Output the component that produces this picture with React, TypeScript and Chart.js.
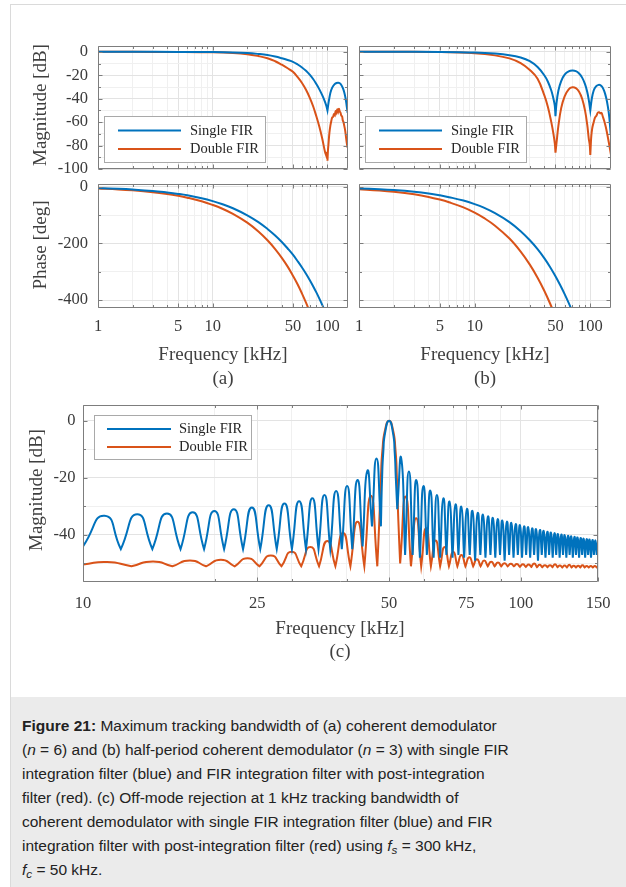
import React, { useEffect, useRef } from 'react';
import { Chart, registerables } from 'chart.js';

Chart.register(...registerables);

const BLUE = '#0072BD';
const RED = '#D95319';
const SERIES_LABELS = ['Single FIR', 'Double FIR'];

// ---------- (a) magnitude ----------
const A_MAG_SINGLE_F = [1, 2, 5, 10, 15, 20, 25, 30, 35, 40, 45, 50, 55, 60, 65, 70, 75, 80, 85, 90, 95, 98, 100, 102, 106, 110, 115, 120, 124, 128, 132, 136, 140, 144, 147, 150];
const A_MAG_SINGLE_DB = [0, 0, -0.05, -0.2, -0.5, -1.0, -1.8, -2.7, -4.0, -5.5, -7.0, -8.5, -10.8, -13.3, -16.2, -19.5, -23.2, -27.5, -32, -37, -42.5, -46.5, -50, -44, -35, -30.5, -27.8, -26.6, -26.3, -26.8, -28.3, -30.8, -34.5, -40, -46, -52];
const A_MAG_DOUBLE_F = [1, 2, 5, 10, 15, 20, 25, 30, 35, 40, 45, 50, 55, 60, 65, 70, 75, 80, 85, 90, 95, 98, 99.3, 100, 101, 102, 104, 106, 108, 110, 112, 114, 116, 118, 120, 122, 124, 126, 128, 130, 132, 134, 136, 138, 140, 142, 144, 146, 148, 150];
const A_MAG_DOUBLE_DB = [0, 0, -0.1, -0.4, -1.0, -2.0, -3.6, -5.4, -8.0, -11.0, -14.0, -17.0, -21.6, -26.6, -32.4, -39, -46.4, -55, -64, -74, -85, -89, -86, -93, -84, -79, -69, -63, -59, -56, -55.5, -53, -54, -50.5, -52, -49, -51, -48.5, -51, -52, -54.5, -55, -58.5, -60, -63, -66, -70, -75, -79, -82];

// ---------- (b) magnitude ----------
const B_MAG_SINGLE_F = [1, 2, 5, 10, 15, 20, 25, 30, 35, 40, 43, 46, 48, 49.3, 50, 51, 53, 56, 60, 65, 70, 75, 80, 85, 90, 94, 97, 100, 103, 107, 112, 118, 122, 127, 132, 137, 142, 146, 150];
const B_MAG_SINGLE_DB = [0, 0, -0.1, -0.6, -1.5, -2.8, -4.8, -8.0, -13, -20, -25.5, -33, -40, -46, -55, -44, -33, -25, -19.5, -16.7, -16, -16.5, -18.5, -22, -27.5, -34, -41, -50, -40, -33, -29.5, -28.2, -28.4, -30, -33.5, -39, -47, -56, -70];
const B_MAG_DOUBLE_F = [1, 2, 5, 10, 15, 20, 25, 30, 35, 40, 43, 46, 48, 49.3, 50, 51, 53, 56, 60, 65, 70, 75, 80, 85, 90, 94, 97, 99, 100, 101, 102, 104, 107, 110, 113, 116, 119, 122, 125, 128, 132, 136, 140, 145, 148, 150];
const B_MAG_DOUBLE_DB = [0, 0, -0.2, -1.2, -3.0, -5.6, -9.6, -15.5, -23, -37, -47, -60, -70, -78, -86, -78, -63, -48, -38, -32, -30.3, -31, -34, -40, -50, -62, -74, -80, -88, -79, -72, -65, -60, -56, -54.5, -52, -51.5, -52.5, -52, -55, -59, -64, -70, -78, -83, -80];

// ---------- phase ----------
const PH_F = [1, 1.5, 2, 3, 4, 5, 6, 8, 10, 12, 15, 20, 25, 30, 35, 40, 45, 50, 55, 60, 65, 70, 75, 80, 85, 90, 95, 100];
const A_PH_SINGLE = [-5, -7.5, -10, -15, -20.5, -25.5, -30.5, -41, -51, -61, -76, -101, -125, -149, -172, -195, -218, -240, -263, -285, -307, -329, -351, -373, -395, -417, -439, -461];
const A_PH_DOUBLE = [-6.3, -9.5, -12.8, -19.3, -25.8, -32.3, -38.8, -51.5, -64.5, -77, -96, -127, -158, -189, -220, -251, -282, -314, -345, -377, -409, -441, -472, -504, -535, -567, -598, -630];
const B_PH_SINGLE = [-6, -9, -12, -18, -24, -30.5, -37, -49, -61.5, -74, -93.5, -125, -157, -189, -220, -252, -284, -316, -348, -379, -410, -441, -473, -504, -535, -566, -598, -630];
const B_PH_DOUBLE = [-9, -13.5, -18, -27, -36, -45.5, -55, -73, -91.5, -110, -137.5, -183, -229, -275, -321, -367, -413, -459, -505, -551, -597, -643, -689, -735, -781, -827, -873, -919];

// ---------- (c) off-mode rejection ----------
const C_SINGLE_F = [10.0, 11.2, 12.2, 13.3, 14.4, 15.55, 16.7, 17.8, 18.9, 19.95, 21.0, 22.1, 23.2, 24.3, 25.4, 26.55, 27.7, 28.85, 30.0, 31.15, 32.3, 33.4, 34.5, 35.6, 36.7, 37.85, 39.0, 40.1, 41.2, 42.35, 43.5, 44.6, 45.7, 46.8, 47.9, 48.2, 48.5, 49.0, 50.0, 51.0, 51.5, 51.8, 52.2, 53.3, 54.4, 55.5, 56.6, 57.7, 58.8, 59.9, 61.0, 62.1, 63.2, 64.3, 65.4, 66.5, 67.6, 68.7, 69.8, 70.9, 72.0, 73.1, 74.2, 75.3, 76.4, 77.5, 78.6, 79.7, 80.8, 81.9, 83.0, 84.1, 85.2, 86.3, 87.4, 88.5, 89.6, 90.7, 91.8, 92.9, 94.0, 95.1, 96.2, 97.3, 98.4, 99.5, 100.6, 101.7, 102.8, 103.9, 105.0, 106.1, 107.2, 108.3, 109.4, 110.5, 111.6, 112.7, 113.8, 114.9, 116.0, 117.1, 118.2, 119.3, 120.4, 121.5, 122.6, 123.7, 124.8, 125.9, 127.0, 128.1, 129.2, 130.3, 131.4, 132.5, 133.6, 134.7, 135.8, 136.9, 138.0, 139.1, 140.2, 141.3, 142.4, 143.5, 144.6, 145.7, 146.8, 147.9, 149.0, 150.0];
const C_SINGLE_DB = [-44.0, -33.3, -45.0, -32.8, -45.0, -32.5, -45.0, -32.1, -45.0, -31.6, -45.0, -31.0, -45.0, -30.4, -45.0, -29.6, -45.0, -29.0, -45.0, -28.2, -45.0, -27.2, -45.0, -26.0, -45.0, -24.6, -45.0, -22.9, -45.0, -20.8, -44.0, -17.6, -37.0, -13.2, -37.0, -20, -11, -4, 0.0, -4, -11, -20, -31.0, -13.2, -47, -17.8, -47, -20.8, -48, -22.9, -47, -24.5, -48, -26.0, -48, -27.2, -47, -28.3, -48, -29.3, -47, -30.1, -48, -30.9, -47, -31.6, -49, -32.3, -47, -32.9, -48, -33.5, -47, -34.0, -48, -34.5, -47, -35.0, -49, -35.4, -47, -35.8, -48, -36.2, -47, -36.6, -48, -37.0, -47, -37.3, -48, -37.7, -47, -38.0, -49, -38.3, -47, -38.6, -48, -38.9, -47, -39.2, -48, -39.4, -47, -39.7, -48, -39.9, -47, -40.1, -48, -40.3, -47, -40.5, -48, -40.7, -47, -40.9, -48, -41.1, -47, -41.3, -48, -41.5, -47, -41.6, -48, -41.8, -47, -41.9, -47, -42.5];
const C_DOUBLE_F = [10.0, 11.35, 12.9, 14.45, 16.0, 17.55, 19.1, 20.65, 22.2, 23.75, 25.3, 26.85, 28.4, 29.95, 31.5, 33.05, 34.6, 36.15, 37.7, 39.25, 40.8, 42.35, 43.9, 45.45, 47.0, 47.5, 47.9, 48.3, 49.0, 50.0, 51.0, 51.7, 52.1, 52.5, 53.0, 54.55, 56.1, 57.65, 59.2, 60.75, 62.3, 63.85, 65.4, 66.95, 68.5, 70.05, 71.6, 73.15, 74.7, 76.25, 77.8, 79.35, 80.9, 82.45, 84.0, 85.55, 87.1, 88.65, 90.2, 91.75, 93.3, 94.85, 96.4, 97.95, 99.5, 101.05, 102.6, 104.15, 105.7, 107.25, 108.8, 110.35, 111.9, 113.45, 115.0, 116.55, 118.1, 119.65, 121.2, 122.75, 124.3, 125.85, 127.4, 128.95, 130.5, 132.05, 133.6, 135.15, 136.7, 138.25, 139.8, 141.35, 142.9, 144.45, 146.0, 147.55, 149.1, 150.0];
const C_DOUBLE_DB = [-50.4, -49.5, -51.0, -49.3, -51.0, -49.0, -51.0, -48.7, -51.0, -48.2, -51.0, -47.2, -51.0, -45.9, -51.0, -44.2, -51.0, -42.1, -51.0, -39.3, -51.0, -35.4, -51.0, -26.3, -51.0, -35, -20, -10, -3, 0.0, -3, -10, -20, -35, -50.0, -26.6, -51.0, -34.2, -51.0, -37.7, -51.0, -42.0, -51.0, -44.2, -51.0, -45.9, -51.0, -47.0, -51.0, -47.8, -51.0, -48.5, -51.0, -49.0, -51.0, -49.4, -51.0, -49.7, -51.0, -49.9, -51.0, -50.1, -51.0, -50.2, -51.2, -50.3, -51.2, -50.4, -51.2, -50.0, -51.3, -50.5, -51.3, -50.6, -51.3, -50.6, -51.3, -50.3, -51.3, -50.7, -51.4, -50.7, -51.4, -50.5, -51.4, -50.8, -51.4, -50.8, -51.4, -50.6, -51.4, -50.9, -51.4, -50.9, -51.4, -50.9, -51.4, -51.0];

// ---------- ticks ----------
const UPPER_X_LABELS = [1, 5, 10, 50, 100];
const UPPER_X_MINOR = [2, 3, 4, 6, 7, 8, 9, 20, 30, 40, 60, 70, 80, 90];
const C_X_LABELS = [10, 25, 50, 75, 100, 150];
const C_X_MINOR = [20, 30, 40, 60, 70, 80, 90];
const MAG_Y_TICKS = [0, -20, -40, -60, -80, -100];
const MAG_Y_MINOR = [-10, -30, -50, -70, -90];
const PHASE_Y_TICKS = [0, -200, -400];
const PHASE_Y_MINOR = [-100, -300];
const C_Y_TICKS = [0, -20, -40];
const C_Y_MINOR = [-10, -30, -50];

const SERIF = '"Liberation Serif", "Times New Roman", serif';
const SANS = '"Liberation Sans", Arial, sans-serif';
const TICK_COLOR = '#3a3a3a';
const TITLE_COLOR = '#3f3f3f';
const FRAME_COLOR = '#7d7d7d';
const GRID_MAJOR = '#e3e3e3';
const GRID_MINOR = '#f0f0f0';
const MARGIN = { l: 75, r: 18, t: 10, b: 40 };
const Y_AXIS_W = 60;
const X_AXIS_H = 34;

type Series = { label: string; color: string; f: number[]; v: number[] };
type Legend = { box: number[]; line: number[]; rows: number[]; textX: number };
type PlotDef = {
  rect: number[];
  xMin: number; xMax: number; xMajor: number[]; xMinor: number[]; xLabels: boolean; xPad: number;
  yMin: number; yMax: number; yMajor: number[]; yMinor: number[]; yLabels: boolean; yPad: number;
  series: Series[]; tension: number; legend?: Legend;
};

function toPoints(f: number[], v: number[]) {
  const pts: { x: number; y: number }[] = [];
  for (let i = 0; i < f.length; i++) {
    pts.push({ x: f[i], y: v[i] });
    if (i > 0 && i < f.length - 1 && v[i] < v[i - 1] && v[i] < v[i + 1]) pts.push({ x: f[i], y: v[i] });
  }
  return pts;
}

function tickList(major: number[], minor: number[]) {
  return [
    ...major.map((v) => ({ value: v, major: true })),
    ...minor.map((v) => ({ value: v, major: false })),
  ].sort((a, b) => a.value - b.value);
}

function buildChart(canvas: HTMLCanvasElement, def: PlotDef) {
  const framePlugin = {
    id: 'frameTicks',
    afterDatasetsDraw(chart: any) {
      const { ctx, chartArea: a, scales } = chart;
      const l = a.left + 0.5, r = a.right - 0.5, t = a.top + 0.5, b = a.bottom - 0.5;
      ctx.save();
      ctx.strokeStyle = FRAME_COLOR;
      ctx.lineWidth = 1;
      ctx.beginPath();
      ctx.rect(l, t, r - l, b - t);
      for (const tk of scales.x.ticks) {
        const px = Math.round(scales.x.getPixelForValue(tk.value)) + 0.5;
        const len = tk.major ? 4 : 2.5;
        ctx.moveTo(px, b); ctx.lineTo(px, b - len);
        ctx.moveTo(px, t); ctx.lineTo(px, t + len);
      }
      for (const tk of scales.y.ticks) {
        const py = Math.round(scales.y.getPixelForValue(tk.value)) + 0.5;
        const len = tk.major ? 4 : 2.5;
        ctx.moveTo(l, py); ctx.lineTo(l + len, py);
        ctx.moveTo(r, py); ctx.lineTo(r - len, py);
      }
      ctx.stroke();
      ctx.restore();
    },
  };
  const legendPlugin = {
    id: 'insideLegend',
    afterDraw(chart: any) {
      const lg = def.legend;
      if (!lg) return;
      const { ctx, chartArea: a } = chart;
      const [bx, by, bw, bh] = lg.box;
      ctx.save();
      ctx.fillStyle = '#ffffff';
      ctx.fillRect(a.left + bx, a.top + by, bw, bh);
      ctx.strokeStyle = '#a9a9a9';
      ctx.lineWidth = 1;
      ctx.strokeRect(a.left + bx + 0.5, a.top + by + 0.5, bw - 1, bh - 1);
      chart.data.datasets.forEach((ds: any, i: number) => {
        const yy = a.top + lg.rows[i];
        ctx.strokeStyle = ds.borderColor;
        ctx.lineWidth = 2;
        ctx.beginPath();
        ctx.moveTo(a.left + lg.line[0], yy);
        ctx.lineTo(a.left + lg.line[1], yy);
        ctx.stroke();
        ctx.fillStyle = '#262626';
        ctx.font = `14.5px ${SERIF}`;
        ctx.textBaseline = 'middle';
        ctx.textAlign = 'left';
        ctx.fillText(ds.label, a.left + lg.textX, yy + 0.5);
      });
      ctx.restore();
    },
  };

  return new Chart(canvas, {
    type: 'line',
    data: {
      datasets: def.series.map((s) => ({
        label: s.label,
        data: toPoints(s.f, s.v),
        borderColor: s.color,
        backgroundColor: s.color,
        borderWidth: 2,
        pointRadius: 0,
        pointHoverRadius: 0,
        tension: def.tension,
        fill: false,
      })),
    },
    options: {
      animation: false,
      responsive: false,
      maintainAspectRatio: false,
      events: [],
      layout: {
        padding: {
          left: MARGIN.l - Y_AXIS_W,
          right: MARGIN.r,
          top: MARGIN.t,
          bottom: MARGIN.b - X_AXIS_H,
        },
      },
      plugins: { legend: { display: false }, tooltip: { enabled: false }, title: { display: false } },
      scales: {
        x: {
          type: 'logarithmic',
          position: 'bottom',
          min: def.xMin,
          max: def.xMax,
          afterBuildTicks: (s: any) => { s.ticks = tickList(def.xMajor, def.xMinor); },
          afterFit: (s: any) => { s.height = X_AXIS_H; s.paddingLeft = 0; s.paddingRight = 0; s.paddingTop = 0; s.paddingBottom = 0; },
          grid: { drawTicks: false, color: (c: any) => (c.tick && c.tick.major ? GRID_MAJOR : GRID_MINOR), lineWidth: 1 },
          border: { display: false },
          ticks: {
            display: def.xLabels,
            autoSkip: false,
            maxRotation: 0,
            minRotation: 0,
            padding: def.xPad,
            color: TICK_COLOR,
            font: { family: SERIF, size: 16.5 },
            callback: (v: any) => (def.xMajor.includes(Number(v)) ? String(v) : ''),
          },
        },
        y: {
          type: 'linear',
          position: 'left',
          min: def.yMin,
          max: def.yMax,
          afterBuildTicks: (s: any) => { s.ticks = tickList(def.yMajor, def.yMinor); },
          afterFit: (s: any) => { s.width = Y_AXIS_W; s.paddingLeft = 0; s.paddingRight = 0; s.paddingTop = 0; s.paddingBottom = 0; },
          grid: { drawTicks: false, color: (c: any) => (c.tick && c.tick.major ? GRID_MAJOR : GRID_MINOR), lineWidth: 1 },
          border: { display: false },
          ticks: {
            display: def.yLabels,
            autoSkip: false,
            padding: def.yPad,
            color: TICK_COLOR,
            font: { family: SERIF, size: 16.5 },
            callback: (v: any) => (def.yMajor.includes(Number(v)) ? String(v) : ''),
          },
        },
      },
    } as any,
    plugins: [framePlugin, legendPlugin],
  } as any);
}

function Plot({ def }: { def: PlotDef }) {
  const ref = useRef<HTMLCanvasElement>(null);
  useEffect(() => {
    const chart = buildChart(ref.current as HTMLCanvasElement, def);
    return () => chart.destroy();
  }, [def]);
  const [L, T, R, B] = def.rect;
  const w = R - L + MARGIN.l + MARGIN.r;
  const h = B - T + MARGIN.t + MARGIN.b;
  return (
    <canvas
      ref={ref}
      width={w}
      height={h}
      style={{ position: 'absolute', left: L - MARGIN.l, top: T - MARGIN.t, width: w, height: h }}
    />
  );
}

const UPPER_LEGEND: Legend = { box: [6, 70, 162, 47], line: [20, 83], rows: [84.5, 103], textX: 92 };
const C_LEGEND: Legend = { box: [11, 10, 158, 45], line: [24, 88], rows: [24, 42], textX: 96 };

const magSeries = (fs: number[], vs: number[], fd: number[], vd: number[]): Series[] => [
  { label: SERIES_LABELS[0], color: BLUE, f: fs, v: vs },
  { label: SERIES_LABELS[1], color: RED, f: fd, v: vd },
];

const UPPER_X = { xMin: 1, xMax: 151, xMajor: UPPER_X_LABELS, xMinor: UPPER_X_MINOR };
const MAG_Y = { yMin: -100, yMax: 5, yMajor: MAG_Y_TICKS, yMinor: MAG_Y_MINOR };
const PH_Y = { yMin: -428, yMax: 9.5, yMajor: PHASE_Y_TICKS, yMinor: PHASE_Y_MINOR };

const PLOTS: PlotDef[] = [
  {
    rect: [98, 46, 348, 169], ...UPPER_X, xLabels: false, xPad: 9, ...MAG_Y, yLabels: true, yPad: 10,
    series: magSeries(A_MAG_SINGLE_F, A_MAG_SINGLE_DB, A_MAG_DOUBLE_F, A_MAG_DOUBLE_DB), tension: 0.4, legend: UPPER_LEGEND,
  },
  {
    rect: [98, 184, 348, 308], ...UPPER_X, xLabels: true, xPad: 9, ...PH_Y, yLabels: true, yPad: 10,
    series: magSeries(PH_F, A_PH_SINGLE, PH_F, A_PH_DOUBLE), tension: 0.4,
  },
  {
    rect: [359, 46, 611, 169], ...UPPER_X, xLabels: false, xPad: 9, ...MAG_Y, yLabels: false, yPad: 10,
    series: magSeries(B_MAG_SINGLE_F, B_MAG_SINGLE_DB, B_MAG_DOUBLE_F, B_MAG_DOUBLE_DB), tension: 0.4, legend: UPPER_LEGEND,
  },
  {
    rect: [359, 184, 611, 308], ...UPPER_X, xLabels: true, xPad: 9, ...PH_Y, yLabels: false, yPad: 10,
    series: magSeries(PH_F, B_PH_SINGLE, PH_F, B_PH_DOUBLE), tension: 0.4,
  },
  {
    rect: [83, 405, 598, 582], xMin: 10, xMax: 150, xMajor: C_X_LABELS, xMinor: C_X_MINOR, xLabels: true, xPad: 11.5,
    yMin: -56.5, yMax: 5.5, yMajor: C_Y_TICKS, yMinor: C_Y_MINOR, yLabels: true, yPad: 7.5,
    series: magSeries(C_SINGLE_F, C_SINGLE_DB, C_DOUBLE_F, C_DOUBLE_DB), tension: 0.6, legend: C_LEGEND,
  },
];

function Label({ x, y, text, rotate }: { x: number; y: number; text: string; rotate?: boolean }) {
  return (
    <div
      style={{
        position: 'absolute',
        left: x,
        top: y,
        transform: `translate(-50%, -50%)${rotate ? ' rotate(-90deg)' : ''}`,
        font: `19px ${SERIF}`,
        color: TITLE_COLOR,
        whiteSpace: 'nowrap',
        lineHeight: 1,
      }}
    >
      {text}
    </div>
  );
}

const subStyle: React.CSSProperties = { fontSize: '0.75em', lineHeight: 0, verticalAlign: '-0.3em' };

export default function App() {
  return (
    <div style={{ position: 'absolute', left: 0, top: 0, width: 626, height: 887, overflow: 'hidden', background: '#ffffff' }}>
      <div style={{ position: 'absolute', left: 10, top: 4, width: 640, height: 900, border: '1px solid #dadada', boxSizing: 'border-box' }} />
      {PLOTS.map((d, i) => (
        <Plot key={i} def={d} />
      ))}
      <Label x={39} y={105} text="Magnitude [dB]" rotate />
      <Label x={39} y={245} text="Phase [deg]" rotate />
      <Label x={35} y={490} text="Magnitude [dB]" rotate />
      <Label x={223} y={353} text="Frequency [kHz]" />
      <Label x={485} y={353} text="Frequency [kHz]" />
      <Label x={223} y={377} text="(a)" />
      <Label x={485} y={377} text="(b)" />
      <Label x={340} y={627} text="Frequency [kHz]" />
      <Label x={340} y={650} text="(c)" />
      <div
        style={{
          position: 'absolute',
          left: 11,
          top: 697,
          width: 615,
          height: 190,
          background: '#ebebeb',
          boxSizing: 'border-box',
          padding: '17px 0 0 11px',
          font: `15.5px/24px ${SANS}`,
          color: '#222222',
          whiteSpace: 'nowrap',
        }}
      >
        <b>Figure 21:</b> Maximum tracking bandwidth of (a) coherent demodulator<br />
        (<i>n</i> = 6) and (b) half-period coherent demodulator (<i>n</i> = 3) with single FIR<br />
        integration filter (blue) and FIR integration filter with post-integration<br />
        filter (red). (c) Off-mode rejection at 1 kHz tracking bandwidth of<br />
        coherent demodulator with single FIR integration filter (blue) and FIR<br />
        integration filter with post-integration filter (red) using <i>f<sub style={subStyle}>s</sub></i> = 300 kHz,<br />
        <i>f<sub style={subStyle}>c</sub></i> = 50 kHz.
      </div>
    </div>
  );
}
